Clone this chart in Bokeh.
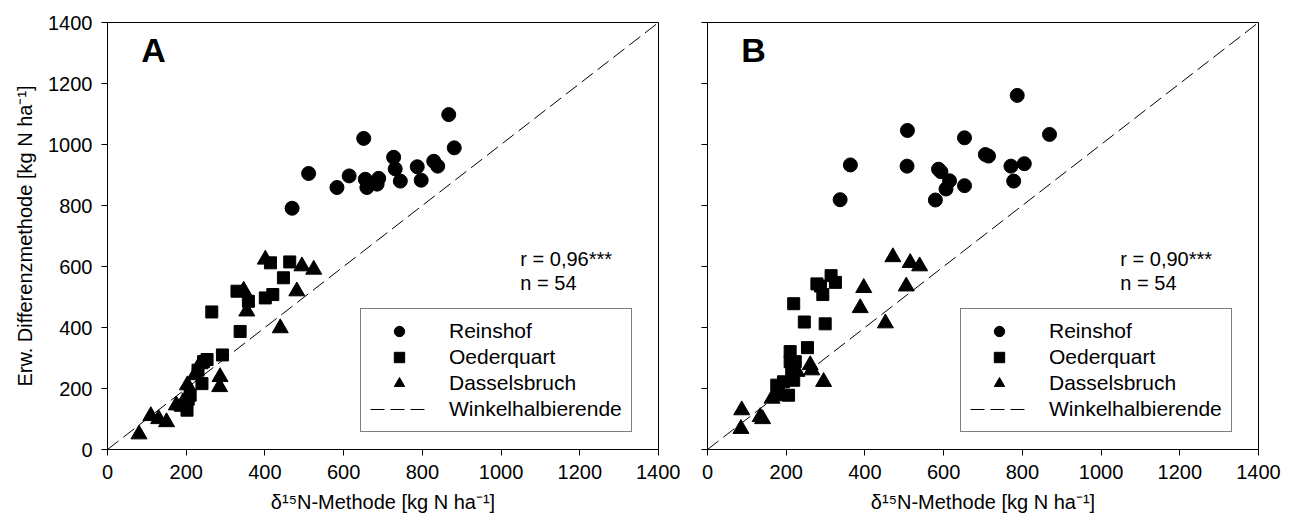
from bokeh.plotting import figure
from bokeh.layouts import row
from bokeh.models import Range1d, FixedTicker, Legend, LegendItem, Label
from bokeh.embed import file_html
from bokeh.resources import INLINE

# ---------------- data ----------------
ticks = [0, 200, 400, 600, 800, 1000, 1200, 1400]
diag = [0, 1400]

# Panel A
a_reins_x = [469, 511, 583, 614, 651, 655, 659, 685, 689, 727, 731, 744, 787, 797, 829, 839, 867, 881]
a_reins_y = [791, 905, 859, 897, 1020, 886, 859, 870, 889, 958, 920, 880, 927, 883, 945, 929, 1098, 989]
a_oeder_x = [265, 292, 244, 253, 240, 210, 202, 185, 337, 329, 358, 401, 420, 414, 447, 463, 205, 230]
a_oeder_y = [451, 310, 288, 295, 216, 178, 129, 145, 387, 519, 486, 497, 508, 612, 563, 615, 165, 260]
a_dassel_x = [80, 110, 130, 150, 175, 203, 222, 286, 285, 401, 346, 354, 439, 481, 494, 524, 190, 235]
a_dassel_y = [50, 110, 100, 90, 145, 211, 244, 238, 205, 623, 521, 453, 398, 519, 601, 590, 150, 280]

# Panel B
b_reins_x = [337, 363, 507, 508, 579, 587, 593, 606, 615, 653, 653, 787, 869, 706, 714, 771, 805, 778]
b_reins_y = [819, 933, 929, 1046, 818, 919, 911, 854, 881, 865, 1022, 1161, 1033, 967, 962, 929, 937, 880]
b_oeder_x = [219, 246, 299, 254, 210, 210, 223, 278, 293, 314, 325, 176, 180, 206, 219, 193, 214, 287]
b_oeder_y = [478, 418, 412, 334, 321, 288, 288, 543, 508, 570, 548, 211, 195, 178, 227, 222, 255, 536]
b_dassel_x = [85, 87, 134, 140, 164, 261, 265, 295, 227, 388, 397, 452, 471, 505, 515, 539, 185, 175]
b_dassel_y = [68, 129, 107, 100, 167, 277, 260, 222, 255, 464, 530, 414, 631, 535, 612, 601, 189, 175]

site_names = ["Reinshof", "Oederquart", "Dasselsbruch", "Winkelhalbierende"]
stats_A = ["r = 0,96***", "n = 54"]
stats_B = ["r = 0,90***", "n = 54"]

FONT = "Liberation Sans"
xlabel = "\u03b4\u00b9\u2075N-Methode [kg N ha\u207b\u00b9]"
ylabel = "Erw. Differenzmethode [kg N ha\u207b\u00b9]"


def make_panel(letter, rx, ry, ox, oy, dx, dy, stats, width, left, right, show_ylabels):
    p = figure(width=width, height=526, output_backend="svg", toolbar_location=None,
               x_range=Range1d(0, 1400), y_range=Range1d(0, 1400),
               min_border_left=left, min_border_right=right,
               min_border_top=22, min_border_bottom=77)
    p.background_fill_color = "white"
    p.border_fill_color = "white"
    p.outline_line_color = "black"
    p.outline_line_width = 1
    p.xgrid.grid_line_color = None
    p.ygrid.grid_line_color = None

    for ax in (p.xaxis[0], p.yaxis[0]):
        ax.ticker = FixedTicker(ticks=ticks)
        ax.minor_tick_line_color = None
        ax.major_tick_in = 0
        ax.major_tick_out = 6
        ax.major_tick_line_color = "black"
        ax.axis_line_color = "black"
        ax.major_label_text_font = FONT
        ax.major_label_text_font_size = "20px"
        ax.major_label_text_color = "black"
        ax.major_label_standoff = 9
        ax.axis_label_text_font = FONT
        ax.axis_label_text_font_size = "20px"
        ax.axis_label_text_font_style = "normal"
        ax.axis_label_text_color = "black"
        ax.axis_label_standoff = 9

    p.xaxis.axis_label = xlabel
    if show_ylabels:
        p.yaxis.axis_label = ylabel
    else:
        p.yaxis.major_label_overrides = {t: " " for t in ticks}

    r_line = p.line(diag, diag, line_color="black", line_width=1, line_dash="14 6")
    r_c = p.scatter(rx, ry, marker="circle", size=14, color="black")
    r_s = p.scatter(ox, oy, marker="square", size=12, color="black")
    r_t = p.scatter(dx, dy, marker="triangle", size=16, color="black")

    p.add_layout(Label(x=86, y=1249, text=letter, text_font=FONT, text_font_size="34px",
                       text_font_style="bold", text_color="black",
                       text_baseline="bottom", text_align="left"))
    p.add_layout(Label(x=1049, y=625, text=stats[0], text_font=FONT, text_font_size="20px",
                       text_color="black", text_baseline="alphabetic", text_align="left"))
    p.add_layout(Label(x=1049, y=547, text=stats[1], text_font=FONT, text_font_size="20px",
                       text_color="black", text_baseline="alphabetic", text_align="left"))

    legend = Legend(items=[
        LegendItem(label=site_names[0], renderers=[r_c]),
        LegendItem(label=site_names[1], renderers=[r_s]),
        LegendItem(label=site_names[2], renderers=[r_t]),
        LegendItem(label=site_names[3], renderers=[r_line]),
    ], location=(253, 17))
    legend.label_text_font = FONT
    legend.label_text_font_size = "21px"
    legend.label_text_color = "black"
    legend.glyph_width = 58
    legend.glyph_height = 26
    legend.label_height = 20
    legend.label_standoff = 21
    legend.spacing = 0
    legend.padding = 9
    legend.margin = 0
    legend.border_line_color = "black"
    legend.border_line_width = 1
    legend.background_fill_color = "white"
    legend.background_fill_alpha = 1
    p.add_layout(legend, "center")
    return p


p1 = make_panel("A", a_reins_x, a_reins_y, a_oeder_x, a_oeder_y, a_dassel_x, a_dassel_y,
                stats_A, 680, 107, 22, True)
p2 = make_panel("B", b_reins_x, b_reins_y, b_oeder_x, b_oeder_y, b_dassel_x, b_dassel_y,
                stats_B, 610, 27, 32, False)

layout = row(p1, p2)
open("out.html", "w").write(file_html(layout, INLINE))
